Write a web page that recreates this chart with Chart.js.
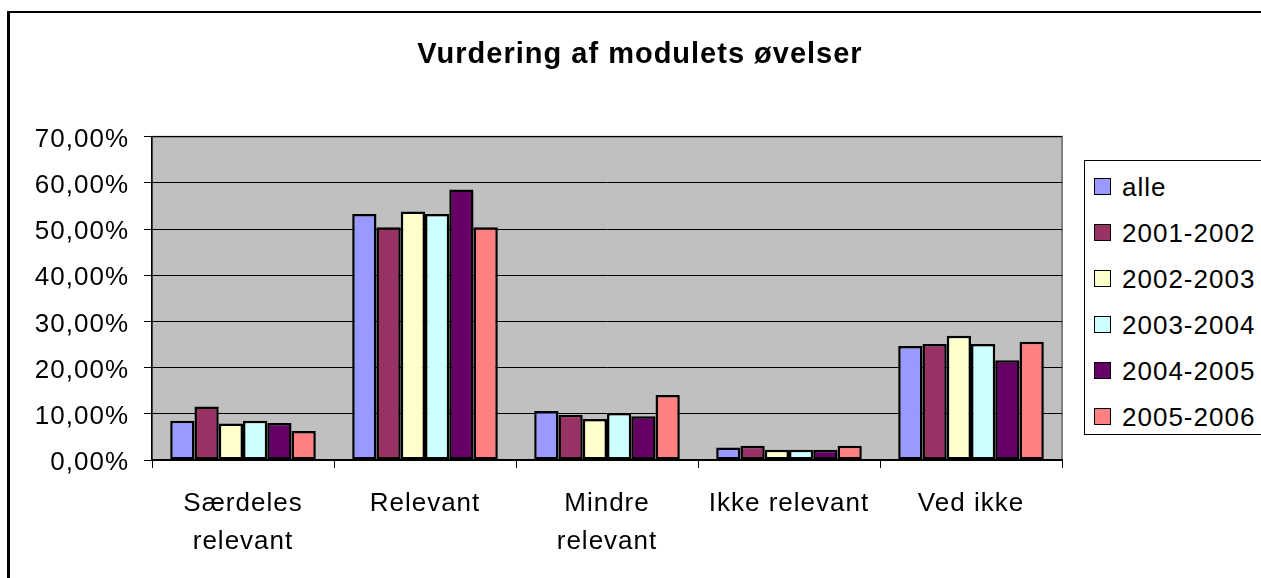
<!DOCTYPE html>
<html>
<head>
<meta charset="utf-8">
<script src="https://cdn.jsdelivr.net/npm/chart.js@4"></script>
<style>
  html, body { margin: 0; padding: 0; background: #fff; }
  #wrap { position: relative; width: 1261px; height: 578px; overflow: hidden; }
  #frame { position: absolute; left: 7px; top: 11px; width: 1400px; height: 700px;
           border-left: 3px solid #000; border-top: 2px solid #000; }
  #chart { position: absolute; left: 0; top: 0; }
  #legend { position: absolute; left: 1084px; top: 160px; width: 260px; height: 273px;
            border: 1px solid #000; background: #fff; letter-spacing: 1px;
            font-family: "Liberation Sans", Arial, sans-serif; font-size: 26px; color: #000; }
  .item { position: absolute; left: 9px; height: 30px; line-height: 30px; white-space: nowrap; }
  .item span.sw { position: absolute; left: 0; top: 6px; width: 17px; height: 17px;
                  border: 1.5px solid #000; box-sizing: border-box; }
  .item span.tx { position: absolute; left: 28px; top: 0; }
</style>
</head>
<body>
<div id="wrap">
  <div id="frame"></div>
  <canvas id="chart" width="1261" height="578"></canvas>
  <div id="legend"></div>
</div>
<script>
const categories = [["Særdeles", "relevant"], "Relevant", ["Mindre", "relevant"], "Ikke relevant", "Ved ikke"];
const seriesNames = ["alle", "2001-2002", "2002-2003", "2003-2004", "2004-2005", "2005-2006"];
const alle = [8.5, 53.3, 10.6, 2.7, 24.7];
const y2001 = [11.6, 50.4, 9.8, 3.1, 25.1];
const y2002 = [7.9, 53.8, 8.9, 2.2, 26.9];
const y2003 = [8.5, 53.3, 10.2, 2.2, 25.1];
const y2004 = [8.0, 58.6, 9.5, 2.2, 21.6];
const y2005 = [6.3, 50.4, 14.1, 3.1, 25.6];
const yTicks = [0, 10, 20, 30, 40, 50, 60, 70];
const colors = ["#9999FF", "#993366", "#FFFFCC", "#CCFFFF", "#660066", "#FF8080"];

const allSeries = [alle, y2001, y2002, y2003, y2004, y2005];
const font = "'Liberation Sans', Arial, sans-serif";

// grey plot area like the old Excel charts
const plotBg = {
    id: "plotBg",
    beforeDraw(chart) {
        const { ctx, chartArea: a } = chart;
        ctx.save();
        ctx.fillStyle = "#C0C0C0";
        ctx.fillRect(a.left, a.top, a.right - a.left, a.bottom - a.top);
        ctx.strokeStyle = "#808080";
        ctx.lineWidth = 2;
        ctx.strokeRect(a.left, a.top, a.right - a.left, a.bottom - a.top);
        ctx.restore();
    }
};

// excel text is a bit wider than arial, spread the letters a little
const spacing = {
    id: "spacing",
    beforeUpdate(chart) { chart.ctx.letterSpacing = "1px"; },
    beforeDraw(chart) { chart.ctx.letterSpacing = "1px"; }
};

const chart = new Chart(document.getElementById("chart"), {
    type: "bar",
    data: {
        labels: categories,
        datasets: seriesNames.map((name, i) => ({
            label: name,
            data: allSeries[i],
            backgroundColor: colors[i],
            borderColor: "#000",
            borderWidth: 2.5,
            borderSkipped: false,
            categoryPercentage: 0.8,
            barPercentage: 1.0
        }))
    },
    options: {
        responsive: false,
        animation: false,
        layout: { padding: { left: 19, right: 0, top: 0, bottom: 0 } },
        plugins: {
            legend: { display: false },
            tooltip: { enabled: false },
            title: {
                display: true,
                text: "Vurdering af modulets øvelser",
                color: "#000",
                font: { family: font, size: 29, weight: "bold" },
                padding: { top: 38, bottom: 64 }
            }
        },
        scales: {
            x: {
                grid: { display: true, drawOnChartArea: false, offset: true, tickLength: 8, color: "#000", lineWidth: 1 },
                border: { display: true, color: "#000", width: 2 },
                ticks: { color: "#000", padding: 17, maxRotation: 0, autoSkip: false,
                         font: { family: font, size: 26, lineHeight: 1.46 } },
                afterFit(s) { s.height = 118; }
            },
            y: {
                min: 0,
                max: 70,
                afterBuildTicks(s) { s.ticks = yTicks.map(v => ({ value: v })); },
                grid: { color: "#000", lineWidth: 1, tickLength: 8 },
                border: { display: true, color: "#000", width: 1.5 },
                ticks: { color: "#000", padding: 15, labelOffset: 3,
                         font: { family: font, size: 26 },
                         callback: v => v.toFixed(2).replace(".", ",") + "%" },
                afterFit(s) { s.width = 133; }
            },
            yRight: {
                position: "right",
                display: true,
                grid: { display: false },
                border: { display: false },
                ticks: { display: false },
                afterFit(s) { s.width = 199; }
            }
        }
    },
    plugins: [plotBg, spacing]
});

// legend box drawn as html, one row per series
const legend = document.getElementById("legend");
seriesNames.forEach((name, i) => {
    const row = document.createElement("div");
    row.className = "item";
    row.style.top = (11 + i * 46) + "px";
    row.innerHTML = '<span class="sw" style="background:' + colors[i] + '"></span><span class="tx">' + name + "</span>";
    legend.appendChild(row);
});
</script>
</body>
</html>
